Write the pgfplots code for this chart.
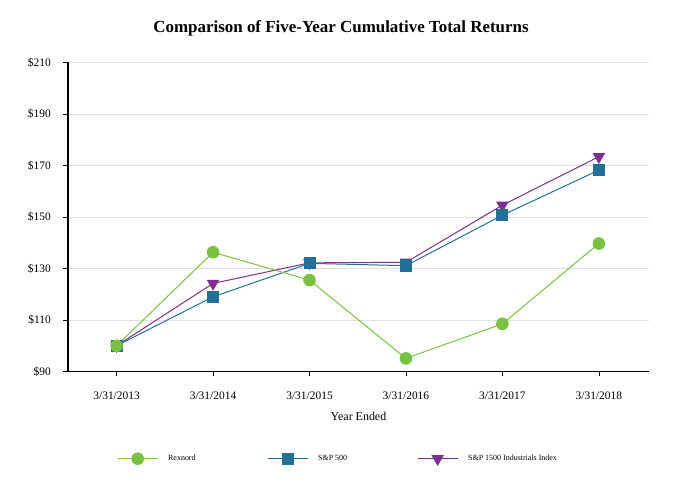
\documentclass[border=0pt]{standalone}
\usepackage{pgfplots}
\pgfplotsset{compat=1.18}
\usepackage{fontspec}
\setmainfont{Liberation Serif}
\definecolor{cgreen}{RGB}{122,193,66}
\definecolor{cblue}{RGB}{34,112,150}
\definecolor{cpurple}{RGB}{125,46,143}
\begin{document}
\begin{tikzpicture}
\path[use as bounding box] (0,0) rectangle (682bp,492bp);
\node[font=\bfseries\fontsize{17}{20}\selectfont, anchor=base] at (341bp,459.3bp) {Comparison of Five-Year Cumulative Total Returns};
\begin{axis}[
  at={(68bp,120.5bp)}, anchor=south west,
  scale only axis, width=581bp, height=309bp,
  xmin=-0.504, xmax=5.52, ymin=90, ymax=210,
  axis x line=bottom, axis y line=left,
  axis line style={-, line width=1.9bp, black},
  xtick={0,1,2,3,4,5},
  xticklabels={3/31/2013,3/31/2014,3/31/2015,3/31/2016,3/31/2017,3/31/2018},
  ytick={90,110,130,150,170,190,210},
  yticklabels={\$90,\$110,\$130,\$150,\$170,\$190,\$210},
  ymajorgrids, grid style={black!12, line width=0.8bp},
  tick style={black, line width=0.6bp}, tick align=outside, major tick length=5bp,
  ticklabel style={font=\fontsize{11.5}{13}\selectfont, inner sep=0pt},
  xticklabel style={anchor=base, yshift=-22.5bp},
  yticklabel style={anchor=east, xshift=-12bp},
  xlabel={Year Ended},
  xlabel style={at={(axis description cs:0.5,0)}, anchor=base, yshift=-48.5bp, font=\fontsize{12}{14}\selectfont},
  legend columns=3, reverse legend,
  legend style={at={(axis description cs:0.0843,-0.283)}, anchor=west, draw=none, fill=none,
    inner sep=0pt, font=\fontsize{8}{9}\selectfont, nodes={inner sep=0pt},
    /tikz/every odd column/.append style={column sep=10bp}},
  legend image code/.code={\draw[mark repeat=2,mark phase=2,#1] plot coordinates {(0bp,0bp) (20bp,0bp) (40bp,0bp)};},
]
\addplot[cpurple, line width=1bp, mark=triangle*, mark size=6.3bp, mark options={rotate=180, fill=cpurple, draw=cpurple}]
  coordinates {(0,100) (1,124.2) (2,132.2) (3,132.4) (4,154.6) (5,173.4)};
\addlegendentry{S\&P 1500 Industrials Index}
\addplot[cblue, line width=1bp, mark=square*, mark size=5.5bp, mark options={fill=cblue, draw=cblue}]
  coordinates {(0,100) (1,119.0) (2,132.0) (3,131.1) (4,150.7) (5,168.2)};
\addlegendentry{\makebox[99bp][l]{S\&P 500}}
\addplot[cgreen, line width=1bp, mark=*, mark size=5.8bp, mark options={fill=cgreen, draw=cgreen}]
  coordinates {(0,100) (1,136.3) (2,125.5) (3,95.1) (4,108.5) (5,139.7)};
\addlegendentry{\makebox[99bp][l]{Rexnord}}
\end{axis}
\end{tikzpicture}
\end{document}
